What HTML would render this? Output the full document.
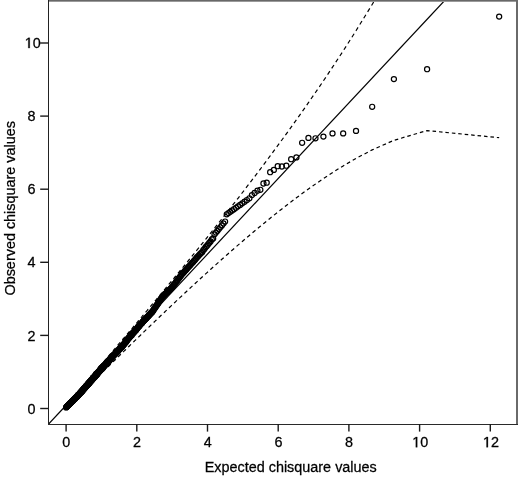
<!DOCTYPE html>
<html><head><meta charset="utf-8"><style>
html,body{margin:0;padding:0;background:#fff;}
svg{display:block;will-change:transform;}
</style></head><body>
<svg width="520" height="477" viewBox="0 0 520 477">
<rect width="520" height="477" fill="#fff"/>
<defs><clipPath id="pr"><rect x="48.5" y="0" width="468" height="424"/></clipPath></defs>
<g clip-path="url(#pr)" fill="none" stroke="#000">
<line x1="48.65" y1="424" x2="445.1" y2="0" stroke-width="1.2"/>
<path d="M499.16,137.71L496.84,137.48M493.95,137.19L490.41,136.84M487.52,136.55L483.98,136.20M481.09,135.91L477.55,135.56M474.66,135.28L471.13,134.93M468.23,134.64L464.70,134.29M461.80,134.00L458.27,133.65M455.37,133.36L451.84,133.01M448.94,132.73L445.41,132.38M442.51,132.09L438.98,131.74M436.08,131.45L432.55,131.10M429.65,130.82L427.09,130.56L426.14,130.84M423.32,131.67L419.87,132.68M417.04,133.51L413.59,134.53M410.76,135.36L407.31,136.37M404.49,137.20L401.04,138.22M398.21,139.05L394.76,140.06M392.00,141.15L388.66,142.63M385.92,143.84L382.58,145.31M379.85,146.52L376.50,148.00M373.77,149.20L372.17,149.91L370.47,150.81M367.80,152.22L364.53,153.94M361.86,155.34L358.59,157.06M355.92,158.48L352.72,160.35M350.09,161.89L346.88,163.76M344.25,165.29L343.17,165.93L341.07,167.24M338.48,168.86L335.32,170.85M332.73,172.47L329.59,174.53M327.03,176.22L323.89,178.28M321.35,180.01L318.24,182.14M315.70,183.88L312.62,186.05M310.10,187.84L308.44,189.01L307.02,190.03M304.52,191.85L302.13,193.58L301.46,194.08M298.97,195.92L296.40,197.82L295.92,198.18M293.44,200.05L291.16,201.77L290.41,202.35M287.95,204.24L286.34,205.47L284.93,206.56M282.47,208.47L281.87,208.94L279.48,210.83M277.03,212.76L274.04,215.13M271.60,217.09L270.16,218.25L268.63,219.49M266.20,221.46L263.45,223.71L263.24,223.88M260.82,225.87L260.35,226.26L257.87,228.31M255.46,230.32L254.61,231.03L252.52,232.78M250.12,234.81L249.37,235.44L247.19,237.29M244.80,239.32L242.29,241.47L241.88,241.82M239.49,243.87L238.00,245.16L236.58,246.39M234.20,248.45L232.10,250.28L231.30,250.99M228.93,253.06L228.48,253.46L226.75,254.98L226.04,255.61M223.67,257.70L221.85,259.32L220.79,260.26M218.43,262.36L217.33,263.34L215.90,264.62L215.56,264.94M213.20,267.05L211.82,268.30L210.52,269.47L210.34,269.63M207.99,271.76L206.79,272.84L205.60,273.93L205.13,274.35M202.79,276.49L202.17,277.05L201.07,278.05L200.00,279.04L199.93,279.10M197.60,281.24L196.89,281.89L195.89,282.81L194.91,283.71L194.75,283.86M192.42,286.01L192.06,286.34L191.15,287.18L190.25,288.02L189.58,288.64M187.25,290.79L186.78,291.23L185.95,292.01L185.13,292.77L184.42,293.43M182.10,295.60L181.20,296.44L180.45,297.14L179.71,297.84L179.26,298.25M176.95,300.42L176.14,301.18L175.46,301.82L174.78,302.46L174.12,303.08M171.81,305.26L170.89,306.13L170.27,306.71L169.66,307.29L169.05,307.87L168.99,307.92M166.68,310.11L166.12,310.65L165.55,311.18L164.99,311.72L164.43,312.24L163.88,312.77L163.87,312.78M161.56,314.97L161.22,315.30L160.70,315.79L160.19,316.28L159.68,316.76L159.18,317.24L158.75,317.65M156.45,319.85L155.80,320.47L155.34,320.91L154.88,321.35L154.42,321.79L153.97,322.22L153.64,322.54M151.34,324.74L150.91,325.15L150.49,325.56L150.07,325.96L149.66,326.36L149.25,326.75L148.84,327.15L148.54,327.43M146.25,329.64L145.69,330.18L144.93,330.91L144.19,331.62L143.45,332.33L143.45,332.34M141.15,334.55L140.62,335.06L139.94,335.72L139.27,336.37L138.61,337.01L138.36,337.26M136.07,339.47L135.43,340.09L134.81,340.69L134.21,341.27L133.61,341.85L133.27,342.18M130.99,344.40L130.19,345.17L129.65,345.70L129.11,346.23L128.57,346.75L128.20,347.11M125.91,349.33L125.50,349.74L125.01,350.22L124.52,350.69L124.04,351.16L123.56,351.62L123.12,352.05M120.84,354.28L120.37,354.74L119.93,355.17L119.49,355.59L119.07,356.01L118.64,356.42L118.22,356.83L118.05,357.00M115.77,359.22L115.00,359.98L114.42,360.54L113.86,361.10L113.29,361.64L112.98,361.95M110.71,364.18L110.08,364.78L109.57,365.28L109.07,365.77L108.57,366.26L108.08,366.74L107.92,366.90M105.64,369.13L105.26,369.50L104.81,369.94L104.37,370.38L103.93,370.81L103.49,371.23L103.06,371.65L102.86,371.86M100.58,374.09L100.07,374.59L99.55,375.09L99.04,375.59L98.53,376.09L98.04,376.57L97.79,376.81M95.51,379.04L95.21,379.34L94.76,379.78L94.32,380.21L93.88,380.63L93.45,381.05L93.03,381.47L92.73,381.76M90.45,383.99L89.93,384.49L89.46,384.95L89.00,385.40L88.54,385.84L88.09,386.28L87.66,386.71M85.37,388.93L84.61,389.67L84.15,390.12L83.70,390.55L83.25,390.98L82.82,391.41L82.58,391.64M80.29,393.85L79.81,394.32L79.38,394.73L78.95,395.14L78.54,395.54L78.14,395.92L77.69,396.36L77.49,396.55M75.19,398.75L74.70,399.21L74.29,399.59L73.85,400.01L73.43,400.41L73.02,400.80L72.59,401.20L72.36,401.41M70.04,403.57L69.68,403.90L69.28,404.26L68.86,404.64L68.45,405.01L68.03,405.38L67.62,405.74L67.21,406.09L67.16,406.13" stroke-width="1.2"/>
<path d="M499.16,-256.98L498.04,-254.45M496.64,-251.30L494.93,-247.44M493.53,-244.29L491.82,-240.44M490.42,-237.28L488.71,-233.43M487.31,-230.27L485.60,-226.42M484.20,-223.26L482.49,-219.41M481.09,-216.26L479.38,-212.40M477.98,-209.25L476.27,-205.39M474.87,-202.24L473.16,-198.38M471.76,-195.23L470.05,-191.37M468.65,-188.22L466.94,-184.37M465.54,-181.21L463.83,-177.36M462.43,-174.20L460.72,-170.35M459.32,-167.19L457.61,-163.34M456.21,-160.18L454.50,-156.33M453.10,-153.18L451.39,-149.32M449.99,-146.17L448.28,-142.31M446.88,-139.16L445.17,-135.30M443.77,-132.15L442.06,-128.29M440.66,-125.14L438.95,-121.29M437.55,-118.13L435.84,-114.28M434.45,-111.12L432.73,-107.27M431.34,-104.11L429.63,-100.26M428.23,-97.11L427.09,-94.55L426.43,-93.32M424.82,-90.32L422.85,-86.66M421.24,-83.66L419.27,-80.00M417.66,-77.01L415.70,-73.34M414.09,-70.35L412.12,-66.69M410.51,-63.69L408.54,-60.03M406.93,-57.04L404.97,-53.37M403.36,-50.38L401.39,-46.72M399.78,-43.72L397.81,-40.06M396.20,-37.06L394.23,-33.40M392.55,-30.47L390.47,-26.91M388.77,-23.99L386.69,-20.43M384.99,-17.51L382.91,-13.95M381.20,-11.03L379.12,-7.47M377.42,-4.55L375.34,-0.99M373.64,1.93L372.17,4.44L371.54,5.47M369.78,8.34L367.63,11.84M365.87,14.70L363.72,18.20M361.96,21.06L359.81,24.56M358.05,27.43L356.02,30.74L355.90,30.92M354.10,33.75L351.90,37.20M350.10,40.03L347.90,43.48M346.10,46.31L343.91,49.76M342.09,52.57L339.85,55.98M338.02,58.78L335.79,62.20M333.96,64.99L332.51,67.20L331.71,68.40M329.86,71.17L327.60,74.56M325.75,77.33L323.48,80.71M321.61,83.47L319.32,86.83M317.45,89.58L315.47,92.48L315.16,92.94M313.27,95.67L310.96,99.02M309.08,101.75L308.44,102.67L306.76,105.08M304.85,107.80L302.53,111.12M300.62,113.83L298.28,117.14M296.36,119.84L294.01,123.14M292.09,125.83L291.16,127.13L289.73,129.12M287.80,131.81L286.34,133.82L285.43,135.08M283.49,137.76L281.87,139.98L281.11,141.02M279.16,143.69L277.71,145.68L276.77,146.95M274.82,149.61L273.82,150.97L272.42,152.85M270.46,155.51L270.16,155.92L268.06,158.74M266.09,161.38L263.67,164.61M261.70,167.25L260.35,169.04L259.28,170.46M257.29,173.09L254.87,176.30M252.87,178.92L251.93,180.16L250.44,182.12M248.44,184.73L246.91,186.73L246.00,187.92M244.00,190.53L242.29,192.75L241.55,193.71M239.54,196.31L238.00,198.30L237.08,199.48M235.07,202.07L234.00,203.44L232.60,205.24M230.58,207.82L230.26,208.23L228.48,210.51L228.11,210.98M226.09,213.56L225.07,214.85L223.61,216.71M221.58,219.28L220.30,220.89L219.09,222.42M217.06,224.99L215.90,226.44L214.57,228.12M212.53,230.68L211.82,231.58L210.52,233.20L210.03,233.81M207.99,236.37L206.79,237.86L205.60,239.35L205.49,239.49M203.44,242.04L202.17,243.61L201.07,244.97L200.93,245.15M198.88,247.69L197.91,248.90L196.89,250.15L196.37,250.80M194.31,253.34L193.94,253.79L193.00,254.96L192.06,256.10L191.79,256.44M189.73,258.97L189.36,259.43L188.49,260.50L187.63,261.55L187.21,262.07M185.14,264.60L184.32,265.60L183.52,266.58L182.74,267.54L182.61,267.68M180.54,270.21L179.71,271.23L178.97,272.12L178.25,273.00L178.01,273.29M175.94,275.81L175.46,276.40L174.78,277.22L174.11,278.03L173.45,278.83L173.40,278.89M171.33,281.40L170.89,281.93L170.27,282.68L169.66,283.43L169.05,284.16L168.79,284.48M166.71,286.99L166.12,287.70L165.55,288.39L164.99,289.06L164.43,289.73L164.17,290.05M162.08,292.56L161.74,292.97L161.22,293.60L160.70,294.22L160.19,294.84L159.68,295.44L159.53,295.62M157.45,298.13L156.75,298.97L156.27,299.54L155.80,300.10L155.34,300.66L154.90,301.19M152.81,303.68L152.20,304.41L151.77,304.93L151.34,305.44L150.91,305.95L150.49,306.46L150.26,306.74M148.16,309.23L147.63,309.87L147.24,310.34L146.85,310.81L146.46,311.27L146.07,311.73L145.69,312.19L145.61,312.28M143.51,314.78L143.09,315.28L142.73,315.71L142.37,316.13L142.02,316.56L141.67,316.97L141.32,317.39L140.97,317.80L140.95,317.82M138.86,320.31L138.28,321.00L137.63,321.77L136.99,322.53L136.36,323.28L136.29,323.36M134.20,325.84L133.91,326.18L133.32,326.88L132.73,327.57L132.16,328.26L131.63,328.88M129.53,331.37L128.84,332.18L128.31,332.81L127.78,333.43L127.27,334.04L126.96,334.40M124.86,336.89L124.28,337.57L123.80,338.14L123.33,338.70L122.86,339.25L122.39,339.80L122.29,339.92M120.19,342.40L119.71,342.96L119.28,343.47L118.85,343.97L118.43,344.47L118.01,344.96L117.62,345.43M115.51,347.91L115.19,348.28L114.81,348.74L114.42,349.19L114.04,349.64L113.67,350.08L113.29,350.52L112.94,350.94M110.83,353.42L110.43,353.89L110.08,354.30L109.74,354.70L109.24,355.30L108.74,355.88L108.26,356.45M106.15,358.92L105.87,359.26L105.41,359.79L104.96,360.33L104.51,360.85L104.07,361.37L103.64,361.88L103.58,361.95M101.47,364.43L101.13,364.84L100.72,365.31L100.33,365.78L99.94,366.24L99.55,366.69L99.16,367.15L98.90,367.46M96.79,369.93L96.24,370.58L95.89,370.99L95.55,371.40L95.21,371.80L94.76,372.33L94.32,372.85L94.22,372.96M92.12,375.44L91.79,375.83L91.39,376.30L90.99,376.77L90.60,377.23L90.22,377.68L89.83,378.13L89.54,378.47M87.44,380.95L86.97,381.52L86.54,382.02L86.13,382.51L85.72,382.99L85.32,383.47L84.92,383.93L84.87,383.99M82.78,386.48L82.32,387.01L81.97,387.43L81.63,387.84L81.29,388.24L80.89,388.71L80.50,389.17L80.21,389.52M78.12,392.02L77.63,392.60L77.25,393.06L76.87,393.51L76.51,393.95L76.15,394.38L75.80,394.80L75.57,395.07M73.49,397.58L72.98,398.20L72.63,398.63L72.28,399.05L71.95,399.45L71.59,399.89L71.25,400.31L70.96,400.67M68.90,403.21L68.56,403.65L68.23,404.06L67.91,404.47L67.58,404.89L67.27,405.29L66.96,405.70L66.66,406.11L66.45,406.39" stroke-width="1.2"/>
<g stroke-width="1.2">
<circle cx="499.16" cy="16.60" r="2.55"/>
<circle cx="427.09" cy="69.20" r="2.55"/>
<circle cx="393.90" cy="79.10" r="2.55"/>
<circle cx="372.17" cy="106.80" r="2.55"/>
<circle cx="356.02" cy="130.90" r="2.55"/>
<circle cx="343.17" cy="133.40" r="2.55"/>
<circle cx="332.51" cy="133.40" r="2.55"/>
<circle cx="323.41" cy="136.60" r="2.55"/>
<circle cx="315.47" cy="138.30" r="2.55"/>
<circle cx="308.44" cy="137.90" r="2.55"/>
<circle cx="302.13" cy="142.80" r="2.55"/>
<circle cx="296.40" cy="157.40" r="2.55"/>
<circle cx="291.16" cy="159.20" r="2.55"/>
<circle cx="286.34" cy="165.70" r="2.55"/>
<circle cx="281.87" cy="166.50" r="2.55"/>
<circle cx="277.71" cy="166.20" r="2.55"/>
<circle cx="273.82" cy="169.90" r="2.55"/>
<circle cx="270.16" cy="172.20" r="2.55"/>
<circle cx="266.71" cy="182.70" r="2.55"/>
<circle cx="263.45" cy="183.50" r="2.55"/>
<circle cx="260.35" cy="189.80" r="2.55"/>
<circle cx="257.41" cy="190.70" r="2.55"/>
<circle cx="254.61" cy="193.00" r="2.55"/>
<circle cx="251.93" cy="195.10" r="2.55"/>
<circle cx="249.37" cy="198.32" r="2.55"/>
<circle cx="246.91" cy="200.06" r="2.55"/>
<circle cx="244.55" cy="201.73" r="2.55"/>
<circle cx="242.29" cy="203.34" r="2.55"/>
<circle cx="240.10" cy="204.88" r="2.55"/>
<circle cx="238.00" cy="206.37" r="2.55"/>
<circle cx="235.97" cy="207.81" r="2.55"/>
<circle cx="234.00" cy="209.20" r="2.55"/>
<circle cx="232.10" cy="210.54" r="2.55"/>
<circle cx="230.26" cy="211.85" r="2.55"/>
<circle cx="228.48" cy="213.11" r="2.55"/>
<circle cx="226.75" cy="214.30" r="2.55"/>
<circle cx="225.07" cy="221.54" r="2.55"/>
<circle cx="223.44" cy="223.51" r="2.55"/>
<circle cx="221.85" cy="225.42" r="2.55"/>
<circle cx="220.30" cy="227.29" r="2.55"/>
<circle cx="218.80" cy="229.11" r="2.55"/>
<circle cx="217.33" cy="230.88" r="2.55"/>
<circle cx="215.90" cy="232.60" r="2.55"/>
<circle cx="214.51" cy="234.29" r="2.55"/>
<circle cx="213.15" cy="238.44" r="2.55"/>
<circle cx="211.82" cy="239.40" r="2.55"/>
<circle cx="210.52" cy="241.46" r="2.55"/>
<circle cx="209.25" cy="242.89" r="2.55"/>
<circle cx="208.01" cy="244.45" r="2.55"/>
<circle cx="206.79" cy="246.00" r="2.55"/>
<circle cx="205.60" cy="247.20" r="2.55"/>
<circle cx="204.43" cy="248.91" r="2.55"/>
<circle cx="203.29" cy="250.23" r="2.55"/>
<circle cx="202.17" cy="252.24" r="2.55"/>
<circle cx="201.07" cy="253.04" r="2.55"/>
<circle cx="200.00" cy="254.14" r="2.55"/>
<circle cx="198.94" cy="255.33" r="2.55"/>
<circle cx="197.91" cy="256.42" r="2.55"/>
<circle cx="196.89" cy="257.49" r="2.55"/>
<circle cx="195.89" cy="258.71" r="2.55"/>
<circle cx="194.91" cy="259.93" r="2.55"/>
<circle cx="193.94" cy="260.90" r="2.55"/>
<circle cx="193.00" cy="262.13" r="2.55"/>
<circle cx="192.06" cy="263.00" r="2.55"/>
<circle cx="191.15" cy="264.04" r="2.55"/>
<circle cx="190.25" cy="265.27" r="2.55"/>
<circle cx="189.36" cy="266.10" r="2.55"/>
<circle cx="188.49" cy="266.90" r="2.55"/>
<circle cx="187.63" cy="267.90" r="2.55"/>
<circle cx="186.78" cy="268.95" r="2.55"/>
<circle cx="185.95" cy="270.08" r="2.55"/>
<circle cx="185.13" cy="270.65" r="2.55"/>
<circle cx="184.32" cy="271.55" r="2.55"/>
<circle cx="183.52" cy="272.63" r="2.55"/>
<circle cx="182.74" cy="273.21" r="2.55"/>
<circle cx="181.96" cy="274.18" r="2.55"/>
<circle cx="181.20" cy="275.37" r="2.55"/>
<circle cx="180.45" cy="276.32" r="2.55"/>
<circle cx="179.71" cy="277.23" r="2.55"/>
<circle cx="178.97" cy="278.28" r="2.55"/>
<circle cx="178.25" cy="278.71" r="2.55"/>
<circle cx="177.54" cy="280.23" r="2.55"/>
<circle cx="176.84" cy="280.85" r="2.55"/>
<circle cx="176.14" cy="281.66" r="2.55"/>
<circle cx="175.46" cy="282.85" r="2.55"/>
<circle cx="174.78" cy="283.80" r="2.55"/>
<circle cx="174.11" cy="284.50" r="2.55"/>
<circle cx="173.45" cy="285.26" r="2.55"/>
<circle cx="172.80" cy="286.28" r="2.55"/>
<circle cx="172.16" cy="287.10" r="2.55"/>
<circle cx="171.52" cy="287.96" r="2.55"/>
<circle cx="170.89" cy="288.50" r="2.55"/>
<circle cx="170.27" cy="289.04" r="2.55"/>
<circle cx="169.66" cy="289.80" r="2.55"/>
<circle cx="169.05" cy="290.22" r="2.55"/>
<circle cx="168.45" cy="290.72" r="2.55"/>
<circle cx="167.86" cy="291.55" r="2.55"/>
<circle cx="167.27" cy="292.14" r="2.55"/>
<circle cx="166.69" cy="292.61" r="2.55"/>
<circle cx="166.12" cy="293.12" r="2.55"/>
<circle cx="165.55" cy="293.85" r="2.55"/>
<circle cx="164.99" cy="294.01" r="2.55"/>
<circle cx="164.43" cy="295.06" r="2.55"/>
<circle cx="163.88" cy="295.59" r="2.55"/>
<circle cx="163.34" cy="295.83" r="2.55"/>
<circle cx="162.80" cy="296.64" r="2.55"/>
<circle cx="162.27" cy="297.04" r="2.55"/>
<circle cx="161.74" cy="297.91" r="2.55"/>
<circle cx="161.22" cy="298.28" r="2.55"/>
<circle cx="160.70" cy="299.22" r="2.55"/>
<circle cx="160.19" cy="300.23" r="2.55"/>
<circle cx="159.68" cy="301.06" r="2.55"/>
<circle cx="159.18" cy="301.31" r="2.55"/>
<circle cx="158.69" cy="302.30" r="2.55"/>
<circle cx="158.19" cy="303.15" r="2.55"/>
<circle cx="157.71" cy="303.73" r="2.55"/>
<circle cx="157.23" cy="304.77" r="2.55"/>
<circle cx="156.75" cy="305.06" r="2.55"/>
<circle cx="156.27" cy="305.98" r="2.55"/>
<circle cx="155.80" cy="306.46" r="2.55"/>
<circle cx="155.34" cy="307.51" r="2.55"/>
<circle cx="154.88" cy="307.97" r="2.55"/>
<circle cx="154.42" cy="308.58" r="2.55"/>
<circle cx="153.97" cy="309.03" r="2.55"/>
<circle cx="153.52" cy="310.19" r="2.55"/>
<circle cx="153.08" cy="310.70" r="2.55"/>
<circle cx="152.64" cy="311.33" r="2.55"/>
<circle cx="152.20" cy="312.02" r="2.55"/>
<circle cx="151.77" cy="312.43" r="2.55"/>
<circle cx="151.34" cy="312.73" r="2.55"/>
<circle cx="150.91" cy="313.16" r="2.55"/>
<circle cx="150.49" cy="313.60" r="2.55"/>
<circle cx="150.07" cy="314.37" r="2.55"/>
<circle cx="149.66" cy="314.38" r="2.55"/>
<circle cx="149.25" cy="314.94" r="2.55"/>
<circle cx="148.84" cy="315.42" r="2.55"/>
<circle cx="148.43" cy="315.92" r="2.55"/>
<circle cx="148.03" cy="316.40" r="2.55"/>
<circle cx="147.63" cy="316.55" r="2.55"/>
<circle cx="147.24" cy="316.89" r="2.55"/>
<circle cx="146.85" cy="317.57" r="2.55"/>
<circle cx="146.46" cy="318.16" r="2.55"/>
<circle cx="146.07" cy="318.50" r="2.55"/>
<circle cx="145.69" cy="318.83" r="2.55"/>
<circle cx="145.31" cy="319.15" r="2.55"/>
<circle cx="144.93" cy="319.64" r="2.55"/>
<circle cx="144.56" cy="319.96" r="2.55"/>
<circle cx="144.19" cy="320.51" r="2.55"/>
<circle cx="143.82" cy="320.66" r="2.55"/>
<circle cx="143.45" cy="321.19" r="2.55"/>
<circle cx="143.09" cy="321.54" r="2.55"/>
<circle cx="142.73" cy="322.02" r="2.55"/>
<circle cx="142.37" cy="322.35" r="2.55"/>
<circle cx="142.02" cy="323.09" r="2.55"/>
<circle cx="141.67" cy="323.34" r="2.55"/>
<circle cx="141.32" cy="323.74" r="2.55"/>
<circle cx="140.97" cy="323.61" r="2.55"/>
<circle cx="140.62" cy="324.26" r="2.55"/>
<circle cx="140.28" cy="324.62" r="2.55"/>
<circle cx="139.94" cy="325.18" r="2.55"/>
<circle cx="139.61" cy="325.14" r="2.55"/>
<circle cx="139.27" cy="326.05" r="2.55"/>
<circle cx="138.94" cy="326.42" r="2.55"/>
<circle cx="138.61" cy="326.44" r="2.55"/>
<circle cx="138.28" cy="326.87" r="2.55"/>
<circle cx="137.95" cy="327.27" r="2.55"/>
<circle cx="137.63" cy="327.77" r="2.55"/>
<circle cx="137.31" cy="328.23" r="2.55"/>
<circle cx="136.99" cy="328.80" r="2.55"/>
<circle cx="136.67" cy="328.80" r="2.55"/>
<circle cx="136.36" cy="329.45" r="2.55"/>
<circle cx="136.04" cy="329.63" r="2.55"/>
<circle cx="135.73" cy="330.47" r="2.55"/>
<circle cx="135.43" cy="330.52" r="2.55"/>
<circle cx="135.12" cy="331.06" r="2.55"/>
<circle cx="134.81" cy="330.67" r="2.55"/>
<circle cx="134.51" cy="331.29" r="2.55"/>
<circle cx="134.21" cy="331.45" r="2.55"/>
<circle cx="133.91" cy="332.49" r="2.55"/>
<circle cx="133.61" cy="332.57" r="2.55"/>
<circle cx="133.32" cy="332.62" r="2.55"/>
<circle cx="133.03" cy="332.91" r="2.55"/>
<circle cx="132.73" cy="333.53" r="2.55"/>
<circle cx="132.45" cy="333.51" r="2.55"/>
<circle cx="132.16" cy="333.77" r="2.55"/>
<circle cx="131.87" cy="334.52" r="2.55"/>
<circle cx="131.59" cy="335.46" r="2.55"/>
<circle cx="131.30" cy="335.00" r="2.55"/>
<circle cx="131.02" cy="335.25" r="2.55"/>
<circle cx="130.75" cy="335.41" r="2.55"/>
<circle cx="130.47" cy="335.70" r="2.55"/>
<circle cx="130.19" cy="336.59" r="2.55"/>
<circle cx="129.92" cy="337.03" r="2.55"/>
<circle cx="129.65" cy="337.11" r="2.55"/>
<circle cx="129.38" cy="337.53" r="2.55"/>
<circle cx="129.11" cy="337.80" r="2.55"/>
<circle cx="128.84" cy="338.13" r="2.55"/>
<circle cx="128.57" cy="337.96" r="2.55"/>
<circle cx="128.31" cy="338.60" r="2.55"/>
<circle cx="128.05" cy="339.09" r="2.55"/>
<circle cx="127.78" cy="339.14" r="2.55"/>
<circle cx="127.52" cy="339.55" r="2.55"/>
<circle cx="127.27" cy="339.76" r="2.55"/>
<circle cx="127.01" cy="340.22" r="2.55"/>
<circle cx="126.75" cy="340.88" r="2.55"/>
<circle cx="126.50" cy="340.81" r="2.55"/>
<circle cx="126.25" cy="341.20" r="2.55"/>
<circle cx="126.00" cy="341.79" r="2.55"/>
<circle cx="125.75" cy="342.04" r="2.55"/>
<circle cx="125.50" cy="342.66" r="2.55"/>
<circle cx="125.25" cy="341.82" r="2.55"/>
<circle cx="125.01" cy="343.00" r="2.55"/>
<circle cx="124.52" cy="343.37" r="2.55"/>
<circle cx="124.28" cy="343.87" r="2.55"/>
<circle cx="124.04" cy="344.24" r="2.55"/>
<circle cx="123.80" cy="344.51" r="2.55"/>
<circle cx="123.33" cy="345.25" r="2.55"/>
<circle cx="123.09" cy="344.97" r="2.55"/>
<circle cx="122.86" cy="345.29" r="2.55"/>
<circle cx="122.62" cy="345.85" r="2.55"/>
<circle cx="122.16" cy="346.82" r="2.55"/>
<circle cx="121.71" cy="347.34" r="2.55"/>
<circle cx="121.48" cy="346.92" r="2.55"/>
<circle cx="121.03" cy="347.47" r="2.55"/>
<circle cx="120.81" cy="347.88" r="2.55"/>
<circle cx="120.37" cy="348.25" r="2.55"/>
<circle cx="119.93" cy="349.10" r="2.55"/>
<circle cx="119.71" cy="348.65" r="2.55"/>
<circle cx="119.49" cy="349.40" r="2.55"/>
<circle cx="119.28" cy="349.12" r="2.55"/>
<circle cx="118.85" cy="349.57" r="2.55"/>
<circle cx="118.43" cy="350.28" r="2.55"/>
<circle cx="118.22" cy="350.78" r="2.55"/>
<circle cx="117.80" cy="351.11" r="2.55"/>
<circle cx="117.60" cy="351.63" r="2.55"/>
<circle cx="117.19" cy="351.65" r="2.55"/>
<circle cx="116.78" cy="351.55" r="2.55"/>
<circle cx="116.58" cy="352.48" r="2.55"/>
<circle cx="116.38" cy="351.94" r="2.55"/>
<circle cx="116.18" cy="352.88" r="2.55"/>
<circle cx="115.78" cy="353.46" r="2.55"/>
<circle cx="115.39" cy="353.30" r="2.55"/>
<circle cx="115.19" cy="353.87" r="2.55"/>
<circle cx="114.81" cy="354.13" r="2.55"/>
<circle cx="114.62" cy="354.40" r="2.55"/>
<circle cx="114.23" cy="354.75" r="2.55"/>
<circle cx="113.86" cy="355.16" r="2.55"/>
<circle cx="113.67" cy="354.78" r="2.55"/>
<circle cx="113.48" cy="355.58" r="2.55"/>
<circle cx="113.11" cy="356.37" r="2.55"/>
<circle cx="112.74" cy="355.85" r="2.55"/>
<circle cx="112.56" cy="356.68" r="2.55"/>
<circle cx="112.20" cy="356.72" r="2.55"/>
<circle cx="112.02" cy="357.39" r="2.55"/>
<circle cx="111.66" cy="357.08" r="2.55"/>
<circle cx="111.48" cy="357.72" r="2.55"/>
<circle cx="111.13" cy="358.21" r="2.55"/>
<circle cx="110.78" cy="358.74" r="2.55"/>
<circle cx="110.43" cy="358.58" r="2.55"/>
<circle cx="110.26" cy="358.91" r="2.55"/>
<circle cx="110.08" cy="359.27" r="2.55"/>
<circle cx="109.74" cy="360.18" r="2.55"/>
<circle cx="109.57" cy="359.90" r="2.55"/>
<circle cx="109.24" cy="359.97" r="2.55"/>
<circle cx="109.07" cy="360.37" r="2.55"/>
<circle cx="108.90" cy="361.25" r="2.55"/>
<circle cx="108.74" cy="360.69" r="2.55"/>
<circle cx="108.57" cy="360.96" r="2.55"/>
<circle cx="108.41" cy="361.25" r="2.55"/>
<circle cx="108.08" cy="362.13" r="2.55"/>
<circle cx="107.92" cy="361.46" r="2.55"/>
<circle cx="107.76" cy="362.02" r="2.55"/>
<circle cx="107.44" cy="362.33" r="2.55"/>
<circle cx="107.28" cy="361.96" r="2.55"/>
<circle cx="107.12" cy="363.02" r="2.55"/>
<circle cx="106.96" cy="362.62" r="2.55"/>
<circle cx="106.65" cy="362.72" r="2.55"/>
<circle cx="106.33" cy="363.50" r="2.55"/>
<circle cx="106.18" cy="363.80" r="2.55"/>
<circle cx="105.87" cy="364.20" r="2.55"/>
<circle cx="105.56" cy="364.17" r="2.55"/>
<circle cx="105.41" cy="364.58" r="2.55"/>
<circle cx="105.11" cy="364.63" r="2.55"/>
<circle cx="104.96" cy="365.04" r="2.55"/>
<circle cx="104.81" cy="365.37" r="2.55"/>
<circle cx="104.51" cy="365.20" r="2.55"/>
<circle cx="104.37" cy="365.68" r="2.55"/>
<circle cx="104.22" cy="366.19" r="2.55"/>
<circle cx="104.07" cy="365.72" r="2.55"/>
<circle cx="103.78" cy="366.06" r="2.55"/>
<circle cx="103.64" cy="366.62" r="2.55"/>
<circle cx="103.49" cy="365.86" r="2.55"/>
<circle cx="103.35" cy="366.68" r="2.55"/>
<circle cx="103.21" cy="367.08" r="2.55"/>
<circle cx="103.06" cy="366.63" r="2.55"/>
<circle cx="102.92" cy="367.48" r="2.55"/>
<circle cx="102.64" cy="367.17" r="2.55"/>
<circle cx="102.50" cy="367.55" r="2.55"/>
<circle cx="102.36" cy="367.18" r="2.55"/>
<circle cx="102.22" cy="367.62" r="2.55"/>
<circle cx="102.08" cy="368.50" r="2.55"/>
<circle cx="101.94" cy="367.84" r="2.55"/>
<circle cx="101.81" cy="368.82" r="2.55"/>
<circle cx="101.67" cy="368.41" r="2.55"/>
<circle cx="101.53" cy="368.89" r="2.55"/>
<circle cx="101.26" cy="368.23" r="2.55"/>
<circle cx="101.13" cy="368.89" r="2.55"/>
<circle cx="100.99" cy="369.27" r="2.55"/>
<circle cx="100.72" cy="369.12" r="2.55"/>
<circle cx="100.59" cy="369.79" r="2.55"/>
<circle cx="100.33" cy="369.48" r="2.55"/>
<circle cx="100.20" cy="369.94" r="2.55"/>
<circle cx="100.07" cy="370.55" r="2.55"/>
<circle cx="99.81" cy="370.87" r="2.55"/>
<circle cx="99.68" cy="371.20" r="2.55"/>
<circle cx="99.55" cy="370.90" r="2.55"/>
<circle cx="99.29" cy="370.80" r="2.55"/>
<circle cx="99.16" cy="371.33" r="2.55"/>
<circle cx="99.04" cy="371.75" r="2.55"/>
<circle cx="98.78" cy="371.94" r="2.55"/>
<circle cx="98.53" cy="372.16" r="2.55"/>
<circle cx="98.16" cy="372.11" r="2.55"/>
<circle cx="97.91" cy="372.64" r="2.55"/>
<circle cx="97.55" cy="373.41" r="2.55"/>
<circle cx="97.31" cy="374.36" r="2.55"/>
<circle cx="97.19" cy="373.90" r="2.55"/>
<circle cx="97.07" cy="373.57" r="2.55"/>
<circle cx="96.95" cy="374.13" r="2.55"/>
<circle cx="96.59" cy="374.64" r="2.55"/>
<circle cx="96.47" cy="374.21" r="2.55"/>
<circle cx="96.36" cy="373.66" r="2.55"/>
<circle cx="96.24" cy="374.95" r="2.55"/>
<circle cx="96.12" cy="374.66" r="2.55"/>
<circle cx="96.01" cy="375.43" r="2.55"/>
<circle cx="95.89" cy="374.92" r="2.55"/>
<circle cx="95.66" cy="375.84" r="2.55"/>
<circle cx="95.55" cy="375.19" r="2.55"/>
<circle cx="95.43" cy="375.70" r="2.55"/>
<circle cx="95.32" cy="376.20" r="2.55"/>
<circle cx="95.21" cy="375.93" r="2.55"/>
<circle cx="94.98" cy="376.19" r="2.55"/>
<circle cx="94.87" cy="376.54" r="2.55"/>
<circle cx="94.76" cy="376.17" r="2.55"/>
<circle cx="94.65" cy="376.73" r="2.55"/>
<circle cx="94.43" cy="377.50" r="2.55"/>
<circle cx="94.32" cy="376.82" r="2.55"/>
<circle cx="94.10" cy="377.39" r="2.55"/>
<circle cx="93.77" cy="377.59" r="2.55"/>
<circle cx="93.67" cy="378.01" r="2.55"/>
<circle cx="93.56" cy="377.60" r="2.55"/>
<circle cx="93.45" cy="377.89" r="2.55"/>
<circle cx="93.34" cy="377.30" r="2.55"/>
<circle cx="93.24" cy="377.90" r="2.55"/>
<circle cx="93.13" cy="378.72" r="2.55"/>
<circle cx="93.03" cy="378.21" r="2.55"/>
<circle cx="92.71" cy="378.92" r="2.55"/>
<circle cx="92.50" cy="378.67" r="2.55"/>
<circle cx="92.40" cy="379.30" r="2.55"/>
<circle cx="92.20" cy="379.56" r="2.55"/>
<circle cx="92.09" cy="379.29" r="2.55"/>
<circle cx="91.99" cy="380.06" r="2.55"/>
<circle cx="91.79" cy="379.79" r="2.55"/>
<circle cx="91.49" cy="380.40" r="2.55"/>
<circle cx="91.29" cy="380.69" r="2.55"/>
<circle cx="91.09" cy="380.98" r="2.55"/>
<circle cx="90.80" cy="380.47" r="2.55"/>
<circle cx="90.70" cy="381.16" r="2.55"/>
<circle cx="90.41" cy="381.56" r="2.55"/>
<circle cx="90.12" cy="381.51" r="2.55"/>
<circle cx="90.02" cy="382.20" r="2.55"/>
<circle cx="89.83" cy="381.95" r="2.55"/>
<circle cx="89.65" cy="382.25" r="2.55"/>
<circle cx="89.55" cy="382.76" r="2.55"/>
<circle cx="89.37" cy="382.43" r="2.55"/>
<circle cx="89.27" cy="383.07" r="2.55"/>
<circle cx="89.00" cy="383.23" r="2.55"/>
<circle cx="88.72" cy="383.54" r="2.55"/>
<circle cx="88.63" cy="383.27" r="2.55"/>
<circle cx="88.54" cy="383.92" r="2.55"/>
<circle cx="88.36" cy="384.24" r="2.55"/>
<circle cx="88.27" cy="383.39" r="2.55"/>
<circle cx="88.18" cy="384.13" r="2.55"/>
<circle cx="87.92" cy="384.38" r="2.55"/>
<circle cx="87.65" cy="384.45" r="2.55"/>
<circle cx="87.48" cy="385.00" r="2.55"/>
<circle cx="87.22" cy="385.09" r="2.55"/>
<circle cx="87.05" cy="385.50" r="2.55"/>
<circle cx="86.97" cy="385.13" r="2.55"/>
<circle cx="86.80" cy="385.58" r="2.55"/>
<circle cx="86.54" cy="385.86" r="2.55"/>
<circle cx="86.29" cy="386.30" r="2.55"/>
<circle cx="86.21" cy="385.84" r="2.55"/>
<circle cx="86.13" cy="386.43" r="2.55"/>
<circle cx="86.05" cy="386.08" r="2.55"/>
<circle cx="85.88" cy="386.73" r="2.55"/>
<circle cx="85.56" cy="387.06" r="2.55"/>
<circle cx="85.32" cy="387.45" r="2.55"/>
<circle cx="85.24" cy="387.18" r="2.55"/>
<circle cx="85.00" cy="387.83" r="2.55"/>
<circle cx="84.69" cy="387.92" r="2.55"/>
<circle cx="84.61" cy="388.21" r="2.55"/>
<circle cx="84.30" cy="388.26" r="2.55"/>
<circle cx="84.15" cy="388.54" r="2.55"/>
<circle cx="84.07" cy="388.98" r="2.55"/>
<circle cx="83.77" cy="388.56" r="2.55"/>
<circle cx="83.70" cy="389.12" r="2.55"/>
<circle cx="83.47" cy="389.47" r="2.55"/>
<circle cx="83.40" cy="389.12" r="2.55"/>
<circle cx="83.33" cy="389.46" r="2.55"/>
<circle cx="83.11" cy="389.90" r="2.55"/>
<circle cx="82.82" cy="390.18" r="2.55"/>
<circle cx="82.53" cy="390.37" r="2.55"/>
<circle cx="82.39" cy="390.69" r="2.55"/>
<circle cx="82.25" cy="391.01" r="2.55"/>
<circle cx="81.97" cy="391.24" r="2.55"/>
<circle cx="81.84" cy="390.97" r="2.55"/>
<circle cx="81.77" cy="391.39" r="2.55"/>
<circle cx="81.63" cy="391.66" r="2.55"/>
<circle cx="81.36" cy="391.96" r="2.55"/>
<circle cx="81.09" cy="391.91" r="2.55"/>
<circle cx="80.89" cy="392.24" r="2.55"/>
<circle cx="80.83" cy="392.57" r="2.55"/>
<circle cx="80.76" cy="392.28" r="2.55"/>
<circle cx="80.57" cy="392.66" r="2.55"/>
<circle cx="80.31" cy="392.92" r="2.55"/>
<circle cx="80.06" cy="393.19" r="2.55"/>
<circle cx="79.81" cy="393.46" r="2.55"/>
<circle cx="79.50" cy="393.73" r="2.55"/>
<circle cx="79.38" cy="394.02" r="2.55"/>
<circle cx="79.07" cy="394.30" r="2.55"/>
<circle cx="78.83" cy="394.63" r="2.55"/>
<circle cx="78.54" cy="394.66" r="2.55"/>
<circle cx="78.31" cy="395.20" r="2.55"/>
<circle cx="78.02" cy="395.34" r="2.55"/>
<circle cx="77.97" cy="395.63" r="2.55"/>
<circle cx="77.85" cy="395.25" r="2.55"/>
<circle cx="77.74" cy="395.53" r="2.55"/>
<circle cx="77.69" cy="395.85" r="2.55"/>
<circle cx="77.41" cy="396.04" r="2.55"/>
<circle cx="77.14" cy="396.38" r="2.55"/>
<circle cx="76.98" cy="396.79" r="2.55"/>
<circle cx="76.93" cy="396.47" r="2.55"/>
<circle cx="76.77" cy="396.77" r="2.55"/>
<circle cx="76.51" cy="397.13" r="2.55"/>
<circle cx="76.25" cy="397.33" r="2.55"/>
<circle cx="76.00" cy="397.51" r="2.55"/>
<circle cx="75.70" cy="397.77" r="2.55"/>
<circle cx="75.55" cy="398.07" r="2.55"/>
<circle cx="75.26" cy="398.07" r="2.55"/>
<circle cx="75.21" cy="398.40" r="2.55"/>
<circle cx="75.02" cy="398.71" r="2.55"/>
<circle cx="74.75" cy="398.54" r="2.55"/>
<circle cx="74.70" cy="398.87" r="2.55"/>
<circle cx="74.43" cy="399.01" r="2.55"/>
<circle cx="74.34" cy="399.29" r="2.55"/>
<circle cx="74.07" cy="399.37" r="2.55"/>
<circle cx="73.81" cy="399.78" r="2.55"/>
<circle cx="73.56" cy="399.86" r="2.55"/>
<circle cx="73.39" cy="400.12" r="2.55"/>
<circle cx="73.27" cy="400.37" r="2.55"/>
<circle cx="72.98" cy="400.38" r="2.55"/>
<circle cx="72.90" cy="400.67" r="2.55"/>
<circle cx="72.63" cy="400.88" r="2.55"/>
<circle cx="72.55" cy="401.14" r="2.55"/>
<circle cx="72.28" cy="401.20" r="2.55"/>
<circle cx="72.02" cy="401.41" r="2.55"/>
<circle cx="71.80" cy="401.82" r="2.55"/>
<circle cx="71.52" cy="402.07" r="2.55"/>
<circle cx="71.25" cy="402.30" r="2.55"/>
<circle cx="71.01" cy="402.62" r="2.55"/>
<circle cx="70.75" cy="402.71" r="2.55"/>
<circle cx="70.56" cy="402.98" r="2.55"/>
<circle cx="70.29" cy="403.23" r="2.55"/>
<circle cx="70.02" cy="403.48" r="2.55"/>
<circle cx="69.77" cy="403.75" r="2.55"/>
<circle cx="69.57" cy="404.02" r="2.55"/>
<circle cx="69.31" cy="404.21" r="2.55"/>
<circle cx="69.10" cy="404.47" r="2.55"/>
<circle cx="68.83" cy="404.65" r="2.55"/>
<circle cx="68.62" cy="404.94" r="2.55"/>
<circle cx="68.36" cy="405.16" r="2.55"/>
<circle cx="68.13" cy="405.45" r="2.55"/>
<circle cx="67.87" cy="405.67" r="2.55"/>
<circle cx="67.62" cy="405.92" r="2.55"/>
<circle cx="67.38" cy="406.17" r="2.55"/>
<circle cx="67.14" cy="406.43" r="2.55"/>
<circle cx="66.89" cy="406.68" r="2.55"/>
<circle cx="66.63" cy="406.95" r="2.55"/>
<circle cx="66.37" cy="407.20" r="2.55"/>
<circle cx="66.13" cy="407.45" r="2.55"/>
</g>
</g>
<rect x="48" y="0" width="470" height="1" fill="#686868"/>
<rect x="48" y="1" width="470" height="1" fill="#9a9a9a"/>
<rect x="516" y="0" width="2" height="425" fill="#6a6a6a"/>
<rect x="48" y="0" width="1" height="425" fill="#222"/>
<rect x="48" y="424" width="470" height="1" fill="#2a2a2a"/>
<g stroke="#1a1a1a" stroke-width="1.4"><line x1="66.10" y1="424" x2="66.10" y2="431.6"/><line x1="136.80" y1="424" x2="136.80" y2="431.6"/><line x1="207.50" y1="424" x2="207.50" y2="431.6"/><line x1="278.20" y1="424" x2="278.20" y2="431.6"/><line x1="348.90" y1="424" x2="348.90" y2="431.6"/><line x1="419.60" y1="424" x2="419.60" y2="431.6"/><line x1="490.30" y1="424" x2="490.30" y2="431.6"/><line x1="40.2" y1="408.50" x2="48.5" y2="408.50"/><line x1="40.2" y1="335.40" x2="48.5" y2="335.40"/><line x1="40.2" y1="262.30" x2="48.5" y2="262.30"/><line x1="40.2" y1="189.20" x2="48.5" y2="189.20"/><line x1="40.2" y1="116.10" x2="48.5" y2="116.10"/><line x1="40.2" y1="43.00" x2="48.5" y2="43.00"/></g>
<g font-family="Liberation Sans, sans-serif" font-size="14.4" fill="#000" stroke="#000" stroke-width="0.25"><text transform="translate(62.296,447.300) scale(1,1.044)">0</text><text transform="translate(132.996,447.300) scale(1,1.044)">2</text><text transform="translate(203.696,447.300) scale(1,1.044)">4</text><text transform="translate(274.396,447.300) scale(1,1.044)">6</text><text transform="translate(345.096,447.300) scale(1,1.044)">8</text><path transform="translate(412.291,447.300) scale(0.007031,-0.007341)" stroke-width="35.6" d="M500,0L500,1227L190,1005L190,1185L525,1409L705,1409L705,0Z"/><text transform="translate(420.300,447.300) scale(1,1.044)">0</text><path transform="translate(482.991,447.300) scale(0.007031,-0.007341)" stroke-width="35.6" d="M500,0L500,1227L190,1005L190,1185L525,1409L705,1409L705,0Z"/><text transform="translate(491.000,447.300) scale(1,1.044)">2</text><text transform="translate(27.596,413.600) scale(1,1.044)">0</text><text transform="translate(27.596,340.500) scale(1,1.044)">2</text><text transform="translate(27.596,267.400) scale(1,1.044)">4</text><text transform="translate(27.596,194.300) scale(1,1.044)">6</text><text transform="translate(27.596,121.200) scale(1,1.044)">8</text><path transform="translate(24.791,48.100) scale(0.007031,-0.007341)" stroke-width="35.6" d="M500,0L500,1227L190,1005L190,1185L525,1409L705,1409L705,0Z"/><text transform="translate(32.800,48.100) scale(1,1.044)">0</text>
<text transform="translate(290.7,471.8) scale(1,1.044)" text-anchor="middle">Expected chisquare values</text>
<text transform="translate(15.1,208.3) rotate(-90) scale(1,1.044)" text-anchor="middle">Observed chisquare values</text>
</g>
</svg>
</body></html>
